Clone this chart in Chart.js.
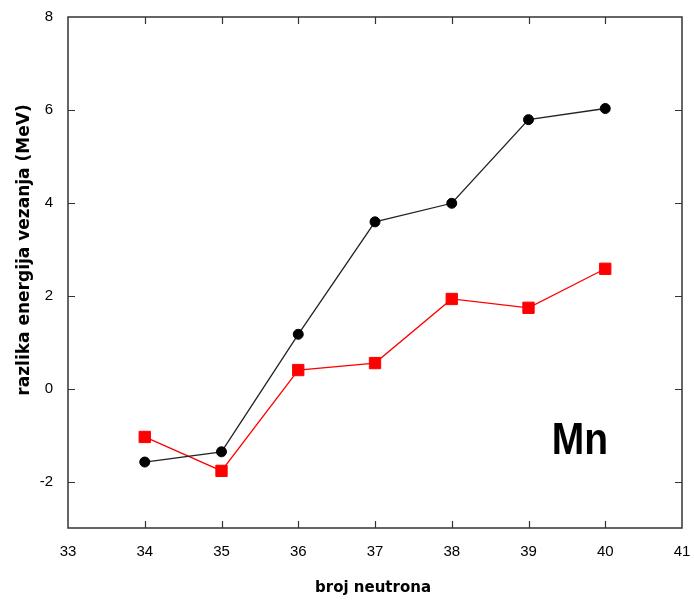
<!DOCTYPE html>
<html>
<head>
<meta charset="utf-8">
<script src="https://cdn.jsdelivr.net/npm/chart.js@4.4.1/dist/chart.umd.min.js"></script>
<style>
  html, body { margin: 0; padding: 0; background: #fff; }
  #wrap { width: 694px; height: 602px; }
</style>
</head>
<body>
<div id="wrap"><canvas id="chart" width="694" height="602"></canvas></div>
<script>
// neutron numbers
const neutrons = [34, 35, 36, 37, 38, 39, 40];
// black circles
const blackSeries = [-1.58, -1.36, 1.17, 3.59, 3.99, 5.79, 6.03];
// red squares
const redSeries = [-1.04, -1.77, 0.40, 0.55, 1.93, 1.74, 2.58];

const xTicks = [33, 34, 35, 36, 37, 38, 39, 40, 41];
const yTicks = [-2, 0, 2, 4, 6, 8];

const xTitle = "broj neutrona";
const yTitle = "razlika energija vezanja (MeV)";
const elementLabel = "Mn";

const toPoints = (xs, ys) => xs.map((x, i) => ({ x: x, y: ys[i] }));

// frame, inward ticks, titles and element label
const decorPlugin = {
    id: "decor",
    afterDraw(chart) {
        const ctx = chart.ctx;
        const area = chart.chartArea;
        const xs = chart.scales.x;
        const ys = chart.scales.y;
        const tick = 7;

        ctx.save();
        ctx.strokeStyle = "#333";
        ctx.lineWidth = 1.5;
        ctx.strokeRect(area.left, area.top, area.right - area.left, area.bottom - area.top);

        ctx.lineWidth = 1.2;
        ctx.beginPath();
        xTicks.slice(1, -1).forEach((v) => {
            const px = Math.round(xs.getPixelForValue(v)) + 0.5;
            ctx.moveTo(px, area.bottom);
            ctx.lineTo(px, area.bottom - tick);
            ctx.moveTo(px, area.top);
            ctx.lineTo(px, area.top + tick);
        });
        yTicks.slice(0, -1).forEach((v) => {
            const py = Math.round(ys.getPixelForValue(v)) + 0.5;
            ctx.moveTo(area.left, py);
            ctx.lineTo(area.left + tick, py);
            ctx.moveTo(area.right, py);
            ctx.lineTo(area.right - tick, py);
        });
        ctx.stroke();

        ctx.fillStyle = "#000";
        ctx.textAlign = "center";
        ctx.textBaseline = "middle";
        ctx.font = "bold 15px 'DejaVu Sans'";
        ctx.fillText(xTitle, 373, 588);

        ctx.save();
        ctx.translate(25, 250);
        ctx.rotate(-Math.PI / 2);
        ctx.font = "bold 17px 'DejaVu Sans'";
        ctx.fillText(yTitle, 0, 0);
        ctx.restore();

        ctx.save();
        ctx.translate(xs.getPixelForValue(39.67), ys.getPixelForValue(-1.15));
        ctx.scale(1, 1.15);
        ctx.font = "bold 39px 'Liberation Sans'";
        ctx.fillText(elementLabel, 0, 0);
        ctx.restore();
        ctx.restore();
    },
};

const element = document.getElementById("chart");

new Chart(element, {
    type: "line",
    data: {
        datasets: [
            {
                label: "black",
                data: toPoints(neutrons, blackSeries),
                borderColor: "#222",
                borderWidth: 1.3,
                pointStyle: "circle",
                pointRadius: 5,
                pointBorderWidth: 1,
                pointBackgroundColor: "#000",
                pointBorderColor: "#000",
                tension: 0,
            },
            {
                label: "red",
                data: toPoints(neutrons, redSeries),
                borderColor: "#ff0000",
                borderWidth: 1.3,
                pointStyle: "rect",
                pointRadius: 8,
                pointBorderWidth: 1,
                pointBackgroundColor: "#ff0000",
                pointBorderColor: "#ff0000",
                tension: 0,
            },
        ],
    },
    options: {
        responsive: false,
        animation: false,
        events: [],
        layout: {
            padding: { left: 0, right: 12, top: 17, bottom: 0 },
        },
        plugins: {
            legend: { display: false },
            tooltip: { enabled: false },
        },
        scales: {
            x: {
                type: "linear",
                min: 33,
                max: 41,
                grid: { display: false, drawTicks: false },
                border: { display: false },
                afterBuildTicks: (scale) => {
                    scale.ticks = xTicks.map((v) => ({ value: v }));
                },
                afterFit: (scale) => {
                    scale.height = 74;
                    scale.paddingLeft = 0;
                    scale.paddingRight = 0;
                },
                ticks: {
                    padding: 15,
                    color: "#000",
                    font: { family: "'Liberation Sans'", size: 15 },
                    maxRotation: 0,
                    autoSkip: false,
                },
            },
            y: {
                type: "linear",
                min: -3,
                max: 8,
                grid: { display: false, drawTicks: false },
                border: { display: false },
                afterBuildTicks: (scale) => {
                    scale.ticks = yTicks.map((v) => ({ value: v }));
                },
                afterFit: (scale) => {
                    scale.width = 68;
                    scale.paddingTop = 0;
                    scale.paddingBottom = 0;
                },
                ticks: {
                    padding: 15,
                    color: "#000",
                    font: { family: "'Liberation Sans'", size: 15 },
                    autoSkip: false,
                },
            },
        },
    },
    plugins: [decorPlugin],
});
</script>
</body>
</html>
